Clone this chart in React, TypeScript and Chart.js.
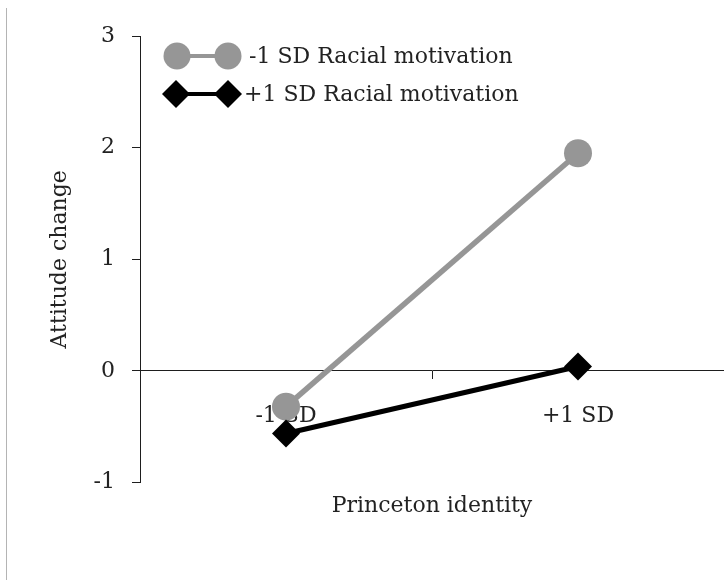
import React, { useEffect, useRef } from 'react';
import { Chart, registerables } from 'chart.js';

Chart.register(...registerables);

const categories = ['-1 SD', '+1 SD'];
const seriesNames = ['-1 SD Racial motivation', '+1 SD Racial motivation'];
const lowRacialMotivation = [-0.32, 1.95];
const highRacialMotivation = [-0.56, 0.04];
const yTickValues = [-1, 0, 1, 2, 3];
const xTitle = 'Princeton identity';
const yTitle = 'Attitude change';

const FONT = "'DejaVu Serif', 'Liberation Serif', serif";
const GRAY = '#969696';
const BLACK = '#000000';
const AXIS = '#1e1e1e';
const TEXT = '#222222';

const legendPlugin = {
  id: 'customLegend',
  afterDraw(chart: any) {
    const ctx = chart.ctx as CanvasRenderingContext2D;
    const rows = [
      { y: 56, x1: 177, x2: 228, textX: 249 },
      { y: 94, x1: 176, x2: 228, textX: 244 },
    ];
    chart.data.datasets.forEach((ds: any, i: number) => {
      const r = rows[i];
      if (!r) return;
      ctx.save();
      ctx.strokeStyle = ds.borderColor;
      ctx.fillStyle = ds.borderColor;
      ctx.lineWidth = 4;
      ctx.beginPath();
      ctx.moveTo(r.x1, r.y);
      ctx.lineTo(r.x2, r.y);
      ctx.stroke();
      const rad = ds.pointRadius;
      [r.x1, r.x2].forEach((cx) => {
        ctx.beginPath();
        if (ds.pointStyle === 'rectRot') {
          ctx.moveTo(cx - rad, r.y);
          ctx.lineTo(cx, r.y - rad);
          ctx.lineTo(cx + rad, r.y);
          ctx.lineTo(cx, r.y + rad);
          ctx.closePath();
        } else {
          ctx.arc(cx, r.y, rad - 0.5, 0, Math.PI * 2);
        }
        ctx.fill();
      });
      ctx.fillStyle = TEXT;
      ctx.font = `22px ${FONT}`;
      ctx.textAlign = 'left';
      ctx.textBaseline = 'middle';
      ctx.fillText(ds.label, r.textX, r.y + 1);
      ctx.restore();
    });
  },
};

export default function App() {
  const canvasRef = useRef<HTMLCanvasElement | null>(null);

  useEffect(() => {
    if (!canvasRef.current) return;
    const font = { family: FONT, size: 22, weight: 'normal' as const };
    const chart = new Chart(canvasRef.current, {
      type: 'line',
      data: {
        labels: categories,
        datasets: [
          {
            label: seriesNames[0],
            data: lowRacialMotivation,
            borderColor: GRAY,
            backgroundColor: GRAY,
            borderWidth: 5.5,
            pointStyle: 'circle',
            pointRadius: 14,
            pointBackgroundColor: GRAY,
            pointBorderWidth: 0,
            order: 1,
          },
          {
            label: seriesNames[1],
            data: highRacialMotivation,
            borderColor: BLACK,
            backgroundColor: BLACK,
            borderWidth: 5,
            pointStyle: 'rectRot',
            pointRadius: 14,
            pointBackgroundColor: BLACK,
            pointBorderWidth: 0,
            order: 0,
          },
        ],
      },
      options: {
        animation: false,
        responsive: false,
        maintainAspectRatio: false,
        layout: { autoPadding: false, padding: { top: 36, left: 0, right: 0, bottom: 0 } },
        plugins: {
          legend: { display: false },
          tooltip: { enabled: false },
          title: {
            display: true,
            text: xTitle,
            position: 'bottom',
            fullSize: false,
            color: TEXT,
            font,
            padding: { top: 10, bottom: 61 },
          },
        },
        scales: {
          x: {
            type: 'category',
            position: { y: 0 } as any,
            offset: true,
            z: 1,
            grid: {
              offset: true,
              drawOnChartArea: false,
              drawTicks: true,
              tickLength: 8,
              color: AXIS,
              lineWidth: 1,
            },
            border: { display: true, color: AXIS, width: 1 },
            ticks: { color: TEXT, font, padding: 24, maxRotation: 0, autoSkip: false },
          },
          y: {
            min: yTickValues[0],
            max: yTickValues[yTickValues.length - 1],
            afterBuildTicks: (scale: any) => {
              scale.ticks = yTickValues.map((v) => ({ value: v }));
            },
            afterFit: (scale: any) => {
              scale.width = 140;
            },
            grid: {
              drawOnChartArea: false,
              drawTicks: true,
              tickLength: 8,
              color: AXIS,
              lineWidth: 1,
            },
            border: { display: true, color: AXIS, width: 1 },
            ticks: { color: TEXT, font, padding: 17 },
            title: {
              display: true,
              text: yTitle,
              color: TEXT,
              font,
              padding: { top: 47, bottom: 0 },
            },
          },
        },
      },
      plugins: [legendPlugin],
    });
    return () => chart.destroy();
  }, []);

  return (
    <div style={{ position: 'absolute', left: 0, top: 0, width: 724, height: 580, background: '#fff' }}>
      <div style={{ position: 'absolute', left: 6, top: 8, width: 1, height: 572, background: '#b4b4b4' }} />
      <canvas ref={canvasRef} width={724} height={580} style={{ position: 'absolute', left: 0, top: 0 }} />
    </div>
  );
}
